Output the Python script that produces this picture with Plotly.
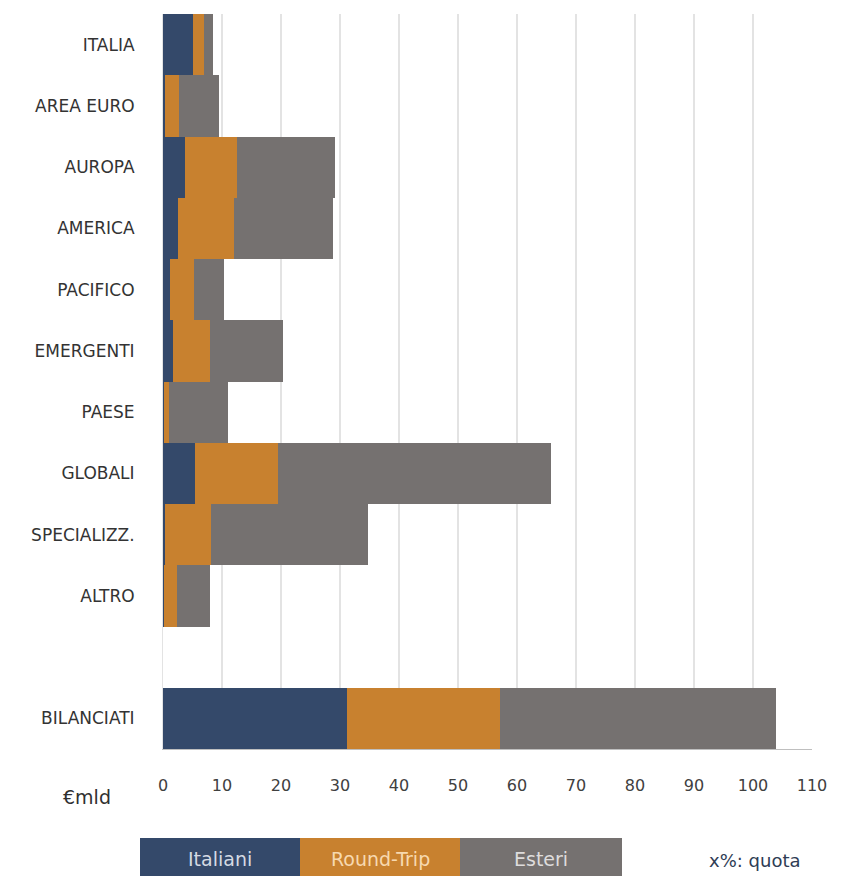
import plotly.graph_objects as go

# Categories (top to bottom) and values in €mld
categories = ["ITALIA", "AREA EURO", "AUROPA", "AMERICA", "PACIFICO", "EMERGENTI",
              "PAESE", "GLOBALI", "SPECIALIZZ.", "ALTRO", " ", "BILANCIATI"]
italiani = [5.1, 0.4, 3.7, 2.5, 1.2, 1.7, 0.2, 5.4, 0.3, 0.1, None, 31.2]
round_trip = [1.9, 2.3, 8.8, 9.5, 4.1, 6.3, 0.9, 14.1, 7.8, 2.2, None, 25.9]
esteri = [1.5, 6.8, 16.7, 16.8, 5.1, 12.3, 9.9, 46.3, 26.7, 5.7, None, 46.8]

series_names = ["Italiani", "Round-Trip", "Esteri"]
colors = ["#34496a", "#c8812f", "#757170"]
legend_text_colors = ["#d5dae3", "#f7d9b0", "#dedcdc"]

x_ticks = list(range(0, 111, 10))

# page body adds an 8px offset, so the figure is sized/positioned to compensate
OFF = 8
W, H = 841 - OFF, 876 - OFF
L, R, T, B = 163 - OFF, 29, 14 - OFF, 127
plot_w = W - L - R
plot_h = H - T - B

FONT = "DejaVu Sans, sans-serif"


def px_x(x):
    """screen pixel -> paper x"""
    return (x - OFF - L) / plot_w


def px_y(y):
    """screen pixel -> paper y"""
    return (H - B - (y - OFF)) / plot_h


fig = go.Figure()
for name, vals, col in zip(series_names, [italiani, round_trip, esteri], colors):
    fig.add_trace(go.Bar(
        y=categories,
        x=vals,
        name=name,
        orientation="h",
        marker=dict(color=col, line=dict(width=0)),
        showlegend=False,
    ))

fig.update_layout(
    width=W,
    height=H,
    barmode="stack",
    bargap=0,
    plot_bgcolor="white",
    paper_bgcolor="white",
    margin=dict(l=L, r=R, t=T, b=B),
    font=dict(family=FONT, color="#404040"),
)

fig.update_xaxes(
    range=[0, 110],
    tickvals=x_ticks,
    showgrid=True,
    gridcolor="#e3e3e3",
    gridwidth=1.5,
    zeroline=False,
    showline=True,
    linecolor="#bfbfbf",
    ticks="",
    tickfont=dict(size=16, color="#404040"),
    ticklabelstandoff=22,
)
fig.update_yaxes(
    categoryorder="array",
    categoryarray=categories,
    autorange="reversed",
    showgrid=False,
    showline=True,
    linecolor="#e3e3e3",
    ticks="",
    tickfont=dict(size=17, color="#333333"),
    ticklabelstandoff=24,
)

# "€mld" unit label
fig.add_annotation(
    x=px_x(87), y=px_y(797), xref="paper", yref="paper",
    xanchor="center", yanchor="middle",
    text="€mld", showarrow=False, font=dict(size=19, color="#303030"),
)

# Legend boxes at the bottom
box_edges = [140, 300, 460, 622]
for i, name in enumerate(series_names):
    fig.add_shape(
        type="rect", xref="paper", yref="paper",
        x0=px_x(box_edges[i]), x1=px_x(box_edges[i + 1]),
        y0=px_y(880), y1=px_y(838),
        fillcolor=colors[i], line=dict(width=0), layer="above",
    )
    fig.add_annotation(
        x=px_x((box_edges[i] + box_edges[i + 1]) / 2), y=px_y(859),
        xref="paper", yref="paper", xanchor="center", yanchor="middle",
        text=name, showarrow=False,
        font=dict(size=19, color=legend_text_colors[i]),
    )

fig.add_annotation(
    x=px_x(707), y=px_y(860), xref="paper", yref="paper",
    xanchor="left", yanchor="middle",
    text="x%: quota", showarrow=False,
    font=dict(size=18, color="#2f3d55"),
)

fig.write_html("out.html")
